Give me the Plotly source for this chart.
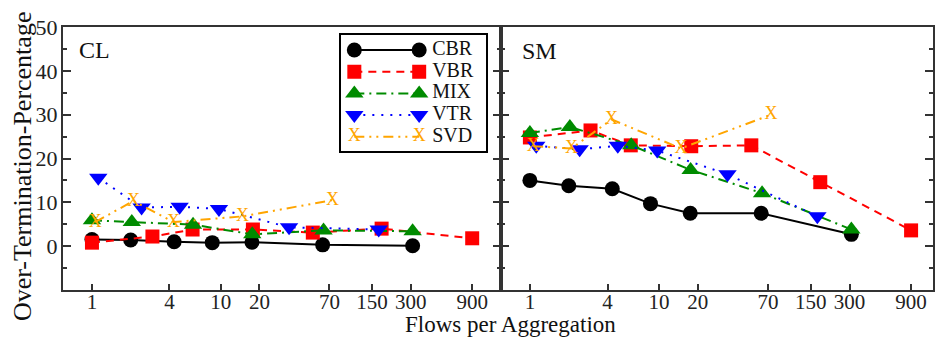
import plotly.graph_objects as go

# ---- data ----
tick_vals = [1, 4, 10, 20, 70, 150, 300, 900]
tick_text = ["1", "4", "10", "20", "70", "150", "300", "900"]
y_ticks = [0, 10, 20, 30, 40, 50]

cbr_x = [1.0, 2.0, 4.35, 8.6, 17.5, 62, 310]
cbr_cl = [1.5, 1.4, 1.0, 0.8, 0.9, 0.3, 0.1]
cbr_sm = [15.0, 13.8, 13.1, 9.7, 7.5, 7.5, 2.7]

vbr_x = [1.0, 2.95, 6.05, 17.8, 52, 178, 900]
vbr_cl = [0.8, 2.2, 3.8, 3.8, 3.1, 4.0, 1.8]
vbr_sm = [24.8, 26.4, 23.0, 22.8, 23.0, 14.6, 3.6]

mix_x = [1.0, 2.04, 6.1, 17.6, 63, 310]
mix_cl = [5.9, 5.5, 4.9, 2.7, 3.6, 3.4]
mix_sm = [25.8, 27.2, 23.0, 17.4, 12.1, 3.8]

vtr_x = [1.12, 2.43, 4.8, 9.7, 34, 169]
vtr_cl = [15.6, 8.8, 9.0, 8.5, 4.3, 3.8]
vtr_sm = [22.9, 22.1, 22.9, 21.8, 16.4, 6.8]

svd_x = [1.06, 2.1, 4.3, 14.8, 74]
svd_cl = [5.5, 10.3, 5.5, 6.8, 10.5]
svd_sm = [22.8, 22.3, 28.9, 22.3, 30.0]

series_names = ["CBR", "VBR", "MIX", "VTR", "SVD"]
series = [
    (cbr_x, cbr_cl, cbr_sm, "black", "solid", "circle", 15),
    (vbr_x, vbr_cl, vbr_sm, "#FF0000", "8px,6px", "square", 14),
    (mix_x, mix_cl, mix_sm, "#008B00", "10px,5px,2px,5px", "triangle-up", 16),
    (vtr_x, vtr_cl, vtr_sm, "#0000FF", "2px,7px", "triangle-down", 16),
    (svd_x, svd_cl, svd_sm, "#FFA500", "10px,5px,2px,5px,2px,5px", "text", 18),
]

FONT = "Liberation Serif"
fig = go.Figure()


def style(col, dash, sym, sz):
    if sym == "text":
        return dict(mode="lines+text", line=dict(color=col, width=2, dash=dash),
                    text="X", textposition="middle center",
                    textfont=dict(family=FONT, size=sz, color=col))
    return dict(mode="lines+markers", line=dict(color=col, width=2, dash=dash),
                marker=dict(symbol=sym, size=sz, color=col, line=dict(width=0)))


for name, (xs, ycl, ysm, col, dash, sym, sz) in zip(series_names, series):
    st = style(col, dash, sym, sz)
    fig.add_trace(go.Scatter(x=xs, y=ycl, name=name, xaxis="x", yaxis="y", showlegend=False, **st))
    fig.add_trace(go.Scatter(x=xs, y=ysm, name=name, xaxis="x2", yaxis="y2", showlegend=False, **st))

# ---- legend box (drawn on its own small helper axis, in box-pixel units) ----
ROW = 21.7
for i, (name, (xs, ycl, ysm, col, dash, sym, sz)) in enumerate(zip(series_names, series)):
    st = style(col, dash, sym, sz)
    yrow = 15 + i * ROW
    fig.add_trace(go.Scatter(x=[13, 78], y=[yrow, yrow], xaxis="x3", yaxis="y3",
                             showlegend=False, hoverinfo="skip", **st))
    fig.add_trace(go.Scatter(x=[91], y=[yrow], mode="text", text=[name], textposition="middle right",
                             textfont=dict(family=FONT, size=20, color="#111"),
                             xaxis="x3", yaxis="y3", showlegend=False, hoverinfo="skip"))

xcommon = dict(type="log", tickvals=tick_vals, ticktext=tick_text, ticks="inside", ticklen=6,
               tickwidth=1.5, tickcolor="#333", showline=True, linecolor="#333", linewidth=2,
               mirror=True, showgrid=False, zeroline=False, ticklabelstandoff=-8,
               tickfont=dict(family=FONT, size=21, color="#222"))
ycommon = dict(range=[-10, 50], tickvals=y_ticks, ticks="inside", ticklen=8, tickwidth=1.5,
               tickcolor="#333", showline=True, linecolor="#333", linewidth=2, mirror="ticks",
               showgrid=False, zeroline=False, ticklabelstandoff=-1,
               minor=dict(tickvals=[-5, 5, 15, 25, 35, 45], ticks="inside", ticklen=4,
                          tickwidth=1.5, tickcolor="#333"),
               tickfont=dict(family=FONT, size=22, color="#222"))

W, L = 872, 63
H, T = 263, 27
split = (502 - L) / W

fig.update_layout(
    width=935, height=337,
    margin=dict(l=L, r=0, t=T, b=337 - T - H),
    plot_bgcolor="white", paper_bgcolor="white",
    font=dict(family=FONT, color="#111"),
    xaxis=dict(xcommon, domain=[0, split], range=[-0.225, 3.178], anchor="y"),
    xaxis2=dict(xcommon, domain=[split, 1], range=[-0.224, 3.124], anchor="y2"),
    yaxis=dict(ycommon, anchor="x"),
    yaxis2=dict(ycommon, anchor="x2", showticklabels=False),
    xaxis3=dict(domain=[(342 - L) / W, (487 - L) / W], range=[0, 145], anchor="y3",
                showline=True, mirror=True, linecolor="black", linewidth=1.5,
                showticklabels=False, ticks="", showgrid=False, zeroline=False, fixedrange=True),
    yaxis3=dict(domain=[(T + H - 151) / H, (T + H - 35) / H], range=[116, 0], anchor="x3",
                showline=True, mirror=True, linecolor="black", linewidth=1.5,
                showticklabels=False, ticks="", showgrid=False, zeroline=False, fixedrange=True),
    showlegend=False,
    annotations=[
        dict(text="Over-Termination-Percentage", textangle=-90, x=(22 - L) / W, y=(T + H - 166) / H,
             xref="paper", yref="paper", xanchor="center", yanchor="middle", showarrow=False,
             font=dict(family=FONT, size=26, color="#111")),
        dict(text="CL", x=(77 - L) / W, y=(T + H - 50) / H, xref="paper", yref="paper",
             xanchor="left", yanchor="middle",
             showarrow=False, font=dict(family=FONT, size=24, color="#111")),
        dict(text="SM", x=(521 - L) / W, y=(T + H - 51) / H, xref="paper", yref="paper",
             xanchor="left", yanchor="middle",
             showarrow=False, font=dict(family=FONT, size=24, color="#111")),
        dict(text="Flows per Aggregation", x=(512 - L) / W, y=-(324 - T - H) / H,
             xref="paper", yref="paper",
             xanchor="center", yanchor="middle", showarrow=False,
             font=dict(family=FONT, size=23, color="#111")),
    ],
)

fig.write_html("out.html")
